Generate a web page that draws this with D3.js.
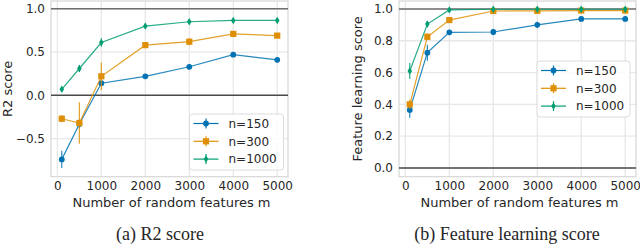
<!DOCTYPE html>
<html>
<head>
<meta charset="utf-8">
<script src="https://cdn.jsdelivr.net/npm/d3@7"></script>
<style>
  body { margin: 0; background: #fff; }
  svg { display: block; }
  text { font-family: "DejaVu Sans", sans-serif; fill: #262626; }
</style>
</head>
<body>
<svg width="640" height="244"></svg>
<script>
// number of random features m
const features = [100, 500, 1000, 2000, 3000, 4000, 5000];
const seriesNames = ["n=150", "n=300", "n=1000"];

// (a) R2 score
const r2_150 = [-0.74, -0.33, 0.14, 0.22, 0.33, 0.47, 0.41];
const r2_150_err = [0.10, 0.05, 0.03, 0.02, 0.03, 0.02, 0.03];
const r2_300 = [-0.27, -0.32, 0.22, 0.58, 0.62, 0.71, 0.69];
const r2_300_err = [0.04, 0.24, 0.16, 0.02, 0.04, 0.02, 0.02];
const r2_1000 = [0.07, 0.31, 0.61, 0.80, 0.85, 0.865, 0.865];
const r2_1000_err = [0.02, 0.04, 0.05, 0.03, 0.03, 0.02, 0.02];

// (b) Feature learning score
const fl_150 = [0.365, 0.725, 0.853, 0.855, 0.90, 0.937, 0.937];
const fl_150_err = [0.05, 0.05, 0.01, 0.02, 0.02, 0.01, 0.01];
const fl_300 = [0.40, 0.825, 0.93, 0.987, 0.988, 0.99, 0.99];
const fl_300_err = [0.03, 0.02, 0.01, 0.01, 0.01, 0.01, 0.01];
const fl_1000 = [0.61, 0.905, 0.994, 0.998, 0.998, 0.998, 0.998];
const fl_1000_err = [0.05, 0.02, 0.01, 0.01, 0.01, 0.01, 0.01];

const xTicks = [0, 1000, 2000, 3000, 4000, 5000];
const r2Ticks = [-0.5, 0.0, 0.5, 1.0];
const flTicks = [0.0, 0.2, 0.4, 0.6, 0.8, 1.0];

const colors = ["#0173b2", "#de8f05", "#029e73"];
const markers = ["circle", "square", "diamond"];

const svg = d3.select("svg");

function marker(g, type, color, x, y) {
  if (type === "circle") {
    g.append("circle").attr("cx", x).attr("cy", y).attr("r", 2.9).attr("fill", color);
  } else if (type === "square") {
    g.append("rect").attr("x", x - 3.1).attr("y", y - 3.1).attr("width", 6.2).attr("height", 6.2).attr("fill", color);
  } else {
    g.append("path").attr("d", `M${x},${y-3.7}L${x+2.3},${y}L${x},${y+3.7}L${x-2.3},${y}Z`).attr("fill", color);
  }
}

function drawPanel(opt) {
  const g = svg.append("g");
  const x = d3.scaleLinear().domain([-145, 5245]).range([opt.left, opt.right]);
  const y = d3.scaleLinear().domain(opt.yDomain).range([opt.bottom, opt.top]);

  // grid
  g.selectAll(".gx").data(xTicks).join("line")
    .attr("x1", d => x(d)).attr("x2", d => x(d))
    .attr("y1", opt.top).attr("y2", opt.bottom)
    .attr("stroke", "#e8e8e8").attr("stroke-width", 1.3);
  g.selectAll(".gy").data(opt.yTicks).join("line")
    .attr("x1", opt.left).attr("x2", opt.right)
    .attr("y1", d => y(d)).attr("y2", d => y(d))
    .attr("stroke", "#e8e8e8").attr("stroke-width", 1.3);

  // frame
  g.append("rect").attr("x", opt.left).attr("y", opt.top)
    .attr("width", opt.right - opt.left).attr("height", opt.bottom - opt.top)
    .attr("fill", "none").attr("stroke", "#d6d6d6").attr("stroke-width", 1.2);

  // reference lines at 0 and 1
  g.append("line").attr("x1", opt.left).attr("x2", opt.right)
    .attr("y1", y(1)).attr("y2", y(1)).attr("stroke", "#6e6e6e").attr("stroke-width", 1.5);
  g.append("line").attr("x1", opt.left).attr("x2", opt.right)
    .attr("y1", y(0)).attr("y2", y(0)).attr("stroke", "#4a4a4a").attr("stroke-width", 1.5);

  // tick labels
  const xa = g.append("g").attr("transform", `translate(0,${opt.bottom})`)
    .call(d3.axisBottom(x).tickValues(xTicks).tickFormat(d3.format("d")).tickSize(0).tickPadding(5));
  xa.select(".domain").remove();
  xa.selectAll("text").style("font-size", "12px").attr("fill", "#262626");

  const ya = g.append("g").attr("transform", `translate(${opt.left},0)`)
    .call(d3.axisLeft(y).tickValues(opt.yTicks).tickFormat(d => d3.format(".1f")(d)).tickSize(0).tickPadding(6));
  ya.select(".domain").remove();
  ya.selectAll("text").style("font-size", "12px").attr("fill", "#262626");

  // axis labels
  g.append("text").attr("x", (opt.left + opt.right) / 2 + 2).attr("y", opt.bottom + 30)
    .attr("text-anchor", "middle").style("font-size", "13px").text("Number of random features m");
  g.append("text")
    .attr("transform", `translate(${opt.ylabelX},${(opt.top + opt.bottom) / 2}) rotate(-90)`)
    .attr("text-anchor", "middle").style("font-size", "13px").text(opt.ylabel);

  // series
  const line = d3.line().x((d, i) => x(features[i])).y(d => y(d));
  opt.series.forEach((s, k) => {
    const sg = g.append("g");
    sg.append("path").attr("d", line(s.values)).attr("fill", "none")
      .attr("stroke", colors[k]).attr("stroke-width", 1.2).attr("stroke-opacity", 0.85);
    s.values.forEach((v, i) => {
      sg.append("line").attr("x1", x(features[i])).attr("x2", x(features[i]))
        .attr("y1", y(v - s.err[i])).attr("y2", y(v + s.err[i]))
        .attr("stroke", colors[k]).attr("stroke-width", 1.2).attr("stroke-opacity", 0.85);
      marker(sg, markers[k], colors[k], x(features[i]), y(v));
    });
  });

  // legend
  const lg = g.append("g").attr("transform", `translate(${opt.legend[0]},${opt.legend[1]})`);
  lg.append("rect").attr("width", opt.legendW).attr("height", 56).attr("rx", 3)
    .attr("fill", "#fff").attr("fill-opacity", 0.85).attr("stroke", "#dcdcdc");
  seriesNames.forEach((name, k) => {
    const cy = 9.5 + k * 17.8;
    lg.append("line").attr("x1", 4).attr("x2", 29).attr("y1", cy).attr("y2", cy)
      .attr("stroke", colors[k]).attr("stroke-width", 1.2);
    lg.append("line").attr("x1", 16.5).attr("x2", 16.5).attr("y1", cy - 5).attr("y2", cy + 5)
      .attr("stroke", colors[k]).attr("stroke-width", 1.2);
    marker(lg, markers[k], colors[k], 16.5, cy);
    lg.append("text").attr("x", 39).attr("y", cy).attr("dy", "0.35em")
      .style("font-size", "12px").text(name);
  });

  // caption
  svg.append("text").attr("x", opt.captionX).attr("y", 240)
    .attr("text-anchor", "middle")
    .style("font-family", "'Liberation Serif', serif").style("font-size", "18px")
    .text(opt.caption);
}

drawPanel({
  left: 51, right: 288, top: 1, bottom: 176.7,
  yDomain: [-0.94, 1.09], yTicks: r2Ticks,
  ylabel: "R2 score", ylabelX: 12,
  series: [
    { values: r2_150, err: r2_150_err },
    { values: r2_300, err: r2_300_err },
    { values: r2_1000, err: r2_1000_err }
  ],
  legend: [189.5, 114], legendW: 94,
  caption: "(a) R2 score", captionX: 160
});

drawPanel({
  left: 399, right: 636, top: 1, bottom: 176.7,
  yDomain: [-0.055, 1.05], yTicks: flTicks,
  ylabel: "Feature learning score", ylabelX: 362,
  series: [
    { values: fl_150, err: fl_150_err },
    { values: fl_300, err: fl_300_err },
    { values: fl_1000, err: fl_1000_err }
  ],
  legend: [537, 61], legendW: 93,
  caption: "(b) Feature learning score", captionX: 507
});
</script>
</body>
</html>
